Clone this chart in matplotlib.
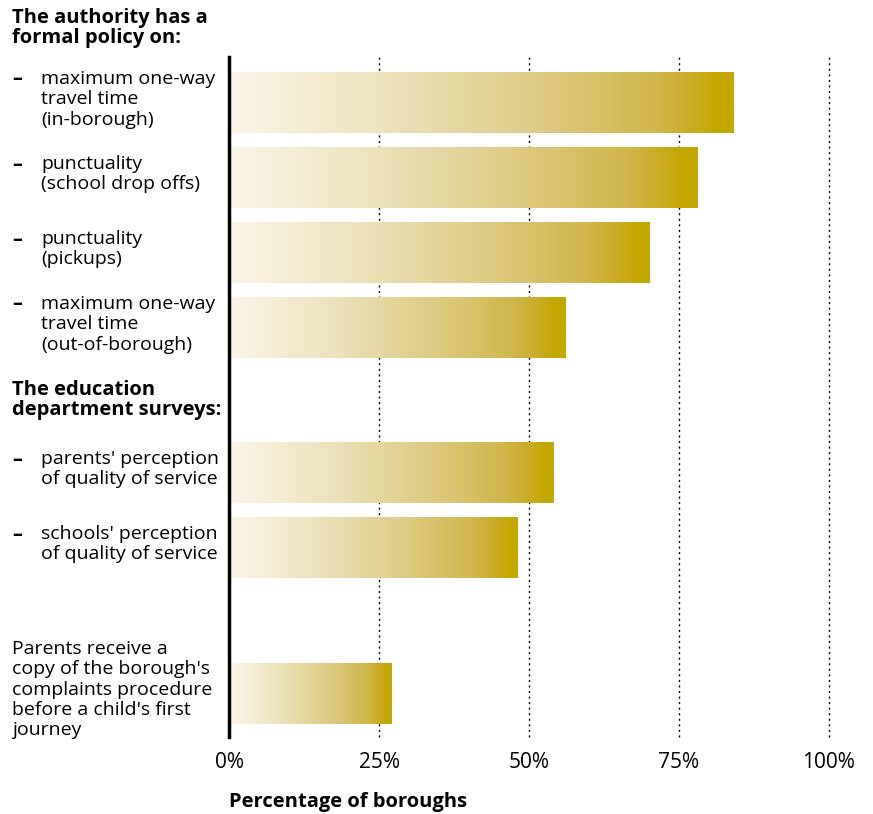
import numpy as np
import matplotlib.pyplot as plt
from matplotlib.colors import LinearSegmentedColormap

plt.rcParams['font.family'] = ['Open Sans', 'DejaVu Sans']

# Datos
labels = ['maximum one-way\ntravel time\n(in-borough)',
          'punctuality\n(school drop offs)',
          'punctuality\n(pickups)',
          'maximum one-way\ntravel time\n(out-of-borough)',
          "parents' perception\nof quality of service",
          "schools' perception\nof quality of service",
          "Parents receive a\ncopy of the borough's\ncomplaints procedure\nbefore a child's first\njourney"]
dash = [True, True, True, True, True, True, False]
values = [84, 78, 70, 56, 54, 48, 27]
ypos = [0, 1, 2, 3, 4.93, 5.93, 7.87]
headings = ['The authority has a\nformal policy on:', 'The education\ndepartment surveys:']
heading_px = [28, 400]  # centro vertical en pixeles desde arriba
xticks = [0, 25, 50, 75, 100]
xticklabels = ['0%', '25%', '50%', '75%', '100%']

W, H = 873, 814
cmap = LinearSegmentedColormap.from_list(
    'oro', [(0, '#fbf4e7'), (0.35, '#ebe0b4'), (0.6, '#dfcb86'), (0.85, '#d1b64a'),
            (0.94, '#c8aa18'), (0.97, '#c4a800'), (1, '#c4a800')])
grad = np.linspace(0, 1, 256).reshape(1, -1)

fig = plt.figure(figsize=(W / 100, H / 100), dpi=100)
ax = fig.add_axes([229 / W, 77 / H, 600 / W, 680 / H])
ax.set_xlim(0, 100)
ax.set_ylim(8.453, -0.613)

for x in xticks[1:]:
    ax.axvline(x, color='black', lw=1, ls=(0, (1.5, 2.5)), zorder=1, clip_on=False)

h = 0.81
for v, y in zip(values, ypos):
    ax.imshow(grad, cmap=cmap, extent=[0.3, v, y + h / 2, y - h / 2], aspect='auto', zorder=2)

ax.set_xlim(0, 100)
ax.set_ylim(8.453, -0.613)

for s in ['top', 'right', 'bottom']:
    ax.spines[s].set_visible(False)
ax.spines['left'].set_linewidth(2.5)
ax.set_yticks([])
ax.set_xticks(xticks)
ax.set_xticklabels(xticklabels, fontsize=15)
ax.tick_params(axis='x', length=0, pad=11)

fs = 14
ls = 1.17
# Etiquetas a la izquierda
for lab, d, y in zip(labels, dash, ypos):
    yy = ax.transData.transform((0, y - 0.05))[1]
    yf = fig.transFigure.inverted().transform((0, yy))[1]
    n = lab.count('\n')
    if d:
        fig.text(12 / W, yf - 2 / H, '–' + '\n ' * n, fontsize=fs, va='center', ha='left',
                 linespacing=ls, fontweight='bold')
    fig.text((41 if d else 12) / W, yf, lab, fontsize=fs, va='center', ha='left',
             linespacing=ls)

for t, py in zip(headings, heading_px):
    fig.text(12 / W, 1 - py / H, t, fontsize=14.5, fontweight='bold', va='center', ha='left',
             linespacing=1.0)

fig.text(229 / W, 1 - 802 / H, 'Percentage of boroughs', fontsize=14.5, fontweight='bold',
         va='center', ha='left')

plt.savefig('out.png', dpi=100)
